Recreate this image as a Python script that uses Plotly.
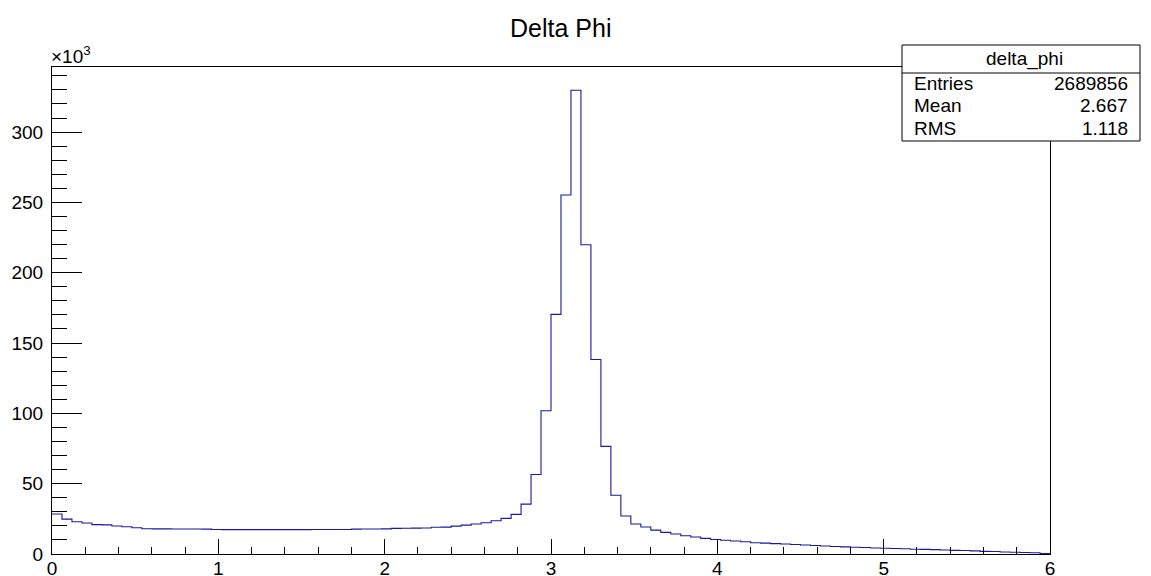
import numpy as np
import plotly.graph_objects as go

# ---------------- data ----------------
bin_low = 0.0
bin_high = 6.0
n_bins = 100
counts = [
    28400, 24800, 22900, 22000, 20900, 20700, 19900, 19400, 18700, 18000,
    17900, 17900, 17800, 17800, 17800, 17700, 17400, 17300, 17300, 17300,
    17300, 17300, 17300, 17300, 17300, 17300, 17400, 17400, 17400, 17400,
    17700, 17800, 17800, 17900, 18200, 18300, 18400, 18500, 19000, 19100,
    19800, 20500, 21300, 22200, 23600, 25300, 28200, 35500, 56500, 101900,
    170400, 255300, 329800, 219900, 138300, 76500, 41800, 27000, 21300, 19200,
    17000, 15400, 14200, 13000, 12100, 11100, 10300, 9800, 9200, 8700,
    8000, 7700, 7400, 7100, 6800, 6400, 6000, 5700, 5300, 5100,
    4800, 4600, 4300, 4100, 3900, 3700, 3400, 3300, 3100, 2800,
    2600, 2500, 2200, 1900, 1800, 1400, 1200, 1100, 900, 300,
]
hist_name = "delta_phi"
title_text = "Delta Phi"
stats_labels = ["Entries", "Mean", "RMS"]
stats_values = ["2689856", "2.667", "1.118"]
x_tick_vals = [0, 1, 2, 3, 4, 5, 6]
y_tick_vals = [0, 50, 100, 150, 200, 250, 300]

# ---------------- geometry helpers ----------------
W, H = 1151, 576
L, R, T, B = 52, 1050, 67, 554
PW, PH = R - L, B - T

def px(x):
    return (x - L) / PW

def py(y):
    return (B - y) / PH

edges = np.linspace(bin_low, bin_high, n_bins + 1)
y_k = np.array(counts, dtype=float) / 1000.0
y_step = np.append(y_k, y_k[-1])

FONT = "Liberation Sans, Arial, Helvetica, sans-serif"
LINE = "rgb(25,25,165)"

fig = go.Figure()
fig.add_trace(go.Scatter(
    x=edges, y=y_step, mode="lines", line=dict(color=LINE, width=1.1, shape="hv"),
    hoverinfo="skip", showlegend=False,
))

ymax = max(y_k) * 1.05

fig.update_layout(
    width=W, height=H,
    margin=dict(l=L, r=W - R, t=T, b=H - B, pad=0, autoexpand=False),
    paper_bgcolor="white", plot_bgcolor="white",
    font=dict(family=FONT, color="black", size=19),
    showlegend=False,
)

fig.update_xaxes(
    range=[bin_low, bin_high], showgrid=False, zeroline=False, automargin=False,
    showline=True, linecolor="black", linewidth=1, mirror=True,
    ticks="inside", ticklen=15, tickcolor="black", tickwidth=1,
    tickmode="array", tickvals=x_tick_vals, ticktext=[str(v) for v in x_tick_vals],
    minor=dict(ticks="inside", ticklen=7, dtick=0.2, tick0=0, tickcolor="black", tickwidth=1, showgrid=False),
    tickfont=dict(size=19, family=FONT), ticklabelstandoff=-3,
)
fig.update_yaxes(
    range=[0, ymax], showgrid=False, zeroline=False, automargin=False,
    showline=True, linecolor="black", linewidth=1, mirror=True,
    ticks="inside", ticklen=30, tickcolor="black", tickwidth=1,
    tickmode="array", tickvals=y_tick_vals, ticktext=[str(v) for v in y_tick_vals],
    minor=dict(ticks="inside", ticklen=15, dtick=10, tick0=0, tickcolor="black", tickwidth=1, showgrid=False),
    tickfont=dict(size=19, family=FONT), ticklabelstandoff=4,
)

shapes = []
annots = []

# title
annots.append(dict(
    x=px(560), y=py(28), xref="paper", yref="paper", text=title_text,
    showarrow=False, xanchor="center", yanchor="middle",
    font=dict(size=25, family=FONT, color="black"),
))
# exponent label
annots.append(dict(
    x=px(49), y=py(55), xref="paper", yref="paper", text="\u00d710<sup>3</sup>",
    showarrow=False, xanchor="left", yanchor="middle",
    font=dict(size=19, family=FONT, color="black"),
))

# stats box
bx0, bx1, by0, by1, bdiv = 902, 1140, 45, 141, 73
shapes.append(dict(type="rect", xref="paper", yref="paper",
                   x0=px(bx0), x1=px(bx1), y0=py(by1), y1=py(by0),
                   line=dict(color="black", width=1), fillcolor="white", layer="above"))
shapes.append(dict(type="line", xref="paper", yref="paper",
                   x0=px(bx0), x1=px(bx1), y0=py(bdiv), y1=py(bdiv),
                   line=dict(color="black", width=1), layer="above"))
annots.append(dict(
    x=px((bx0 + bx1) / 2 + 3), y=py(59), xref="paper", yref="paper", text=hist_name,
    showarrow=False, xanchor="center", yanchor="middle",
    font=dict(size=19, family=FONT, color="black"),
))
row_y = [83, 105.5, 128]
for lab, val, ry in zip(stats_labels, stats_values, row_y):
    annots.append(dict(x=px(912), y=py(ry), xref="paper", yref="paper", text=lab,
                       showarrow=False, xanchor="left", yanchor="middle",
                       font=dict(size=19, family=FONT, color="black")))
    annots.append(dict(x=px(1130), y=py(ry), xref="paper", yref="paper", text=val,
                       showarrow=False, xanchor="right", yanchor="middle",
                       font=dict(size=19, family=FONT, color="black")))

fig.update_layout(shapes=shapes, annotations=annots)

fig.write_html("out.html")
